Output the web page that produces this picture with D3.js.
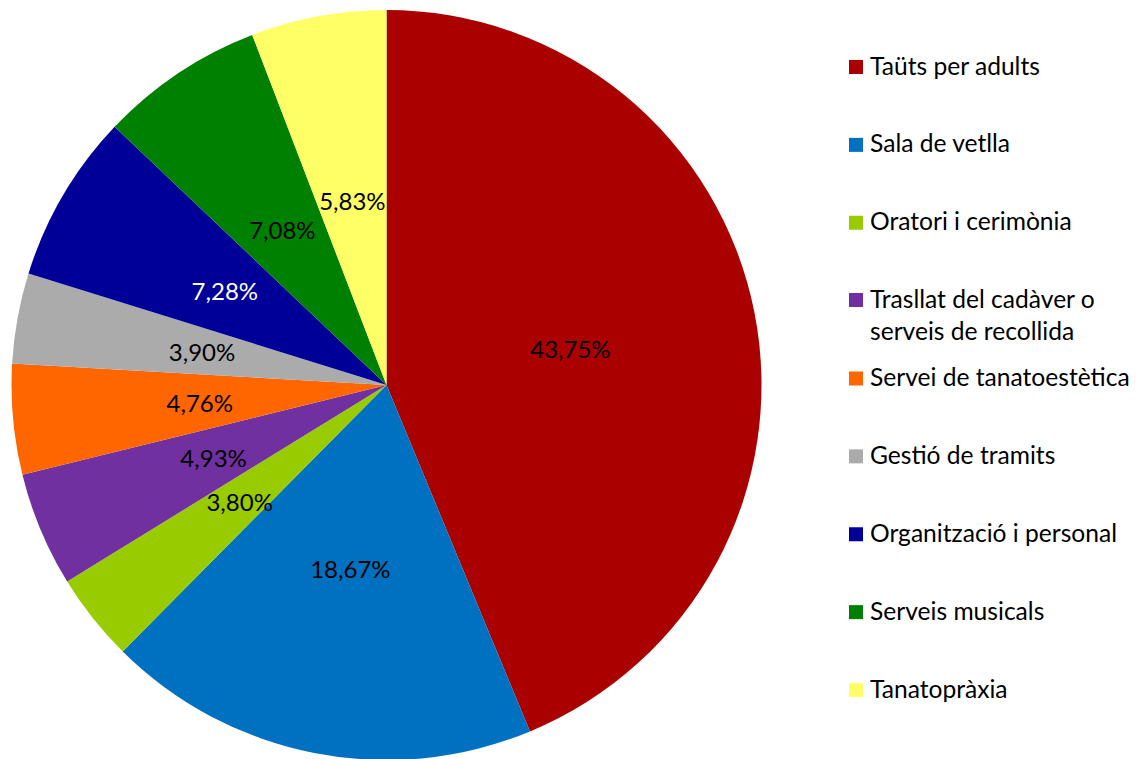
<!DOCTYPE html>
<html><head><meta charset="utf-8">
<script src="https://cdn.jsdelivr.net/npm/d3@7"></script>
<style>body{margin:0;background:#fff}svg{display:block}</style>
</head><body>
<svg id="c" width="1136" height="759"></svg>
<script>
const categories = ["Taüts per adults","Sala de vetlla","Oratori i cerimònia","Trasllat del cadàver o serveis de recollida","Servei de tanatoestètica","Gestió de tramits","Organització i personal","Serveis musicals","Tanatopràxia"];
const legendLines = [["Taüts per adults"],["Sala de vetlla"],["Oratori i cerimònia"],["Trasllat del cadàver o","serveis de recollida"],["Servei de tanatoestètica"],["Gestió de tramits"],["Organització i personal"],["Serveis musicals"],["Tanatopràxia"]];
const values = [43.75,18.67,3.80,4.93,4.76,3.90,7.28,7.08,5.83];
const labels = ["43,75%","18,67%","3,80%","4,93%","4,76%","3,90%","7,28%","7,08%","5,83%"];
const colors = ["#AA0000","#0070C0","#99CC00","#7030A0","#FF6600","#ABABAB","#000099","#008000","#FFFF66"];
const labelColors = ["#000","#000","#000","#000","#000","#000","#fff","#000","#000"];

const svg = d3.select("#c");
const cx = 386.5, cy = 385, R = 375;
const font = "Lato, 'Open Sans', sans-serif";
const pie = d3.pie().sort(null).value(d=>d)(values);
const arc = d3.arc().innerRadius(0).outerRadius(R);
const labelArc = d3.arc().innerRadius(R*0.5).outerRadius(R*0.5);
const g = svg.append("g").attr("transform",`translate(${cx},${cy})`);
g.selectAll("path").data(pie).join("path").attr("d",arc).attr("fill",(d,i)=>colors[i]);
g.selectAll("text").data(pie).join("text")
  .attr("transform",d=>`translate(${labelArc.centroid(d)})`)
  .attr("text-anchor","middle").attr("dominant-baseline","central")
  .attr("font-family",font).attr("font-size",24)
  .attr("fill",(d,i)=>labelColors[i]).text((d,i)=>labels[i]);

const ly = d3.scalePoint().domain(d3.range(categories.length)).range([67,690]);
const lg = svg.append("g");
categories.forEach((c,i)=>{
  const yy = i===3 ? 300 : ly(i);
  lg.append("rect").attr("x",849).attr("y",yy-7).attr("width",14).attr("height",14).attr("fill",colors[i]);
  legendLines[i].forEach((t,j)=>{
    lg.append("text").attr("x",870).attr("y",yy-2+j*32).attr("dominant-baseline","central")
      .attr("font-family",font).attr("font-size",24.6).attr("fill","#000").text(t);
  });
});
</script>
</body></html>
